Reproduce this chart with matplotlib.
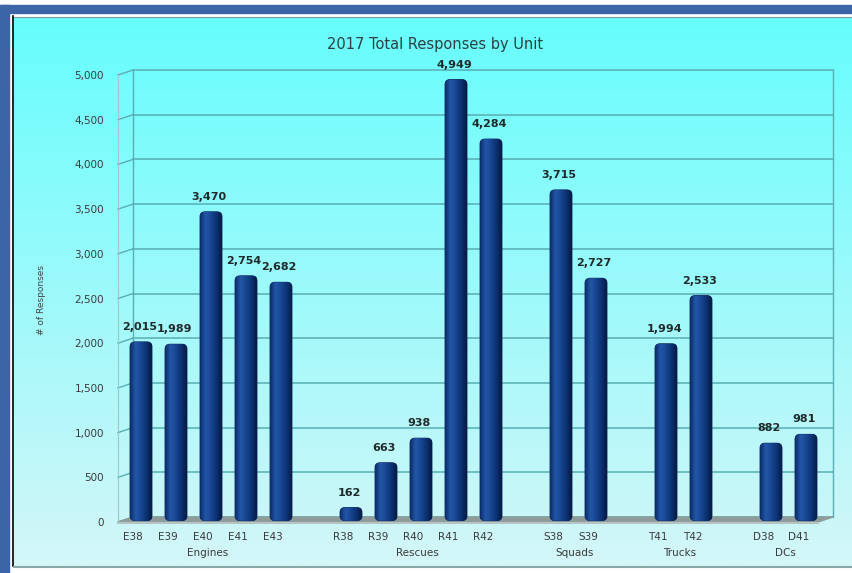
import numpy as np
import matplotlib
matplotlib.use("Agg")
import matplotlib.pyplot as plt
from matplotlib.patches import Rectangle, Polygon, FancyBboxPatch
from matplotlib.colors import LinearSegmentedColormap, to_rgb

# data
units = ["E38", "E39", "E40", "E41", "E43",
         "R38", "R39", "R40", "R41", "R42",
         "S38", "S39",
         "T41", "T42",
         "D38", "D41"]
responses = [2015, 1989, 3470, 2754, 2682,
             162, 663, 938, 4949, 4284,
             3715, 2727,
             1994, 2533,
             882, 981]
slots = [0, 1, 2, 3, 4, 6, 7, 8, 9, 10, 12, 13, 15, 16, 18, 19]
groups = ["Engines", "Rescues", "Squads", "Trucks", "DCs"]
group_slots = [[0, 4], [6, 10], [12, 13], [15, 16], [18, 19]]
yticks = list(range(0, 5001, 500))

W, H = 853, 573
fig = plt.figure(figsize=(W / 100, H / 100), dpi=100)

# ---- background / frame (pixel coords)
bg = fig.add_axes([0, 0, 1, 1])
bg.set_xlim(0, W)
bg.set_ylim(H, 0)
bg.axis("off")
top_c = np.array(to_rgb("#66fdfd"))
bot_c = np.array(to_rgb("#d4f6f8"))
t = np.linspace(0, 1, 256)[:, None, None]
grad = top_c * (1 - t) + bot_c * t
bg.imshow(np.repeat(grad, 2, axis=1), extent=[14, W, 566, 17], aspect="auto", zorder=0)
bg.add_patch(Rectangle((0, 5), 9, H, color="#3b65a7", zorder=2))
bg.add_patch(Rectangle((0, 5), W, 8, color="#3b65a7", zorder=2))
bg.plot([13.5, 13.5], [16, 566], color="black", lw=1.2, zorder=3)
bg.plot([14, W], [16.5, 16.5], color="#7a9a9a", lw=0.8, zorder=3)
bg.plot([14, W], [566.5, 566.5], color="#8aa8a8", lw=1.5, zorder=3)

# ---- chart area
px_l, px_r, px_b, px_t = 118, 833, 522, 75
ax = fig.add_axes([px_l / W, (H - px_b) / H, (px_r - px_l) / W, (px_b - px_t) / H])
ax.set_facecolor("none")
slot_px = 35.0
x0 = (px_l - 141) / slot_px
x1 = (px_r - 141) / slot_px
for s in ax.spines.values():
    s.set_visible(False)

ypp = 5000 / (px_b - px_t)        # data units per pixel, vertical
dx = 15 / slot_px                 # depth offset
dy = 5 * ypp

grid_c = "#58aeb2"
for v in yticks:
    ax.plot([x0 + dx, x1], [v + dy, v + dy], color=grid_c, lw=1.1, clip_on=False, zorder=1)
    ax.plot([x0, x0 + dx], [v, v + dy], color=grid_c, lw=1.0, clip_on=False, zorder=1)
ax.plot([x0 + dx, x0 + dx], [dy, 5000 + dy], color=grid_c, lw=1.0, clip_on=False, zorder=1)
ax.plot([x1, x1], [dy, 5000 + dy], color=grid_c, lw=1.0, clip_on=False, zorder=1)
ax.plot([x0, x0], [0, 5000], color="#9cc8cc", lw=0.8, clip_on=False, zorder=1)

# floor
ax.add_patch(Polygon([(x0, 0), (x1 - dx, 0), (x1, dy), (x0 + dx, dy)],
                     closed=True, color="#8f9c9c", clip_on=False, zorder=2))
ax.plot([x0, x1 - dx], [-8, -8], color="#b5c4c4", lw=1.5, clip_on=False, zorder=2)

# bars with cylinder shading
bar_cmap = LinearSegmentedColormap.from_list(
    "cyl", ["#0a2c6a", "#2457a8", "#174590", "#0c3272", "#061a44"])
shade = np.linspace(0, 1, 64)[None, :]
bw = 22 / slot_px
rx = 5 / slot_px
aspect = (5 * ypp) / rx
for s, v in zip(slots, responses):
    left = s - bw / 2
    patch = FancyBboxPatch((left, 15), bw, v - 15,
                           boxstyle=f"round,pad=0,rounding_size={rx}",
                           mutation_aspect=aspect, facecolor="#123f88",
                           edgecolor="#0a2558", lw=0.6, zorder=4)
    ax.add_patch(patch)
    im = ax.imshow(shade, cmap=bar_cmap, extent=[left, left + bw, 15, v],
                   aspect="auto", zorder=5)
    im.set_clip_path(patch)
    ax.text(s - 0.05, v + 15 * ypp, f"{v:,}", ha="center", va="center",
            fontsize=8, fontweight="bold", color="#1e2a2a", zorder=6)
ax.set_aspect("auto")
ax.set_xlim(x0, x1)
ax.set_ylim(0, 5000)

# axis labels
ax.set_xticks([])
ax.set_yticks(yticks)
ax.set_yticklabels([f"{v:,}" for v in yticks], fontsize=7.5, color="#3a3a3a")
ax.tick_params(axis="y", length=0, pad=10)
for s, u in zip(slots, units):
    ax.text(s - 0.22, -15 * ypp, u, ha="center", va="center", fontsize=7.5, color="#3a3a3a")
for g, (a, b) in zip(groups, group_slots):
    ax.text((a + b) / 2 - 0.1, -31 * ypp, g, ha="center", va="center", fontsize=7.5, color="#3a3a3a")

fig.text(435 / W, 1 - 45 / H, "2017 Total Responses by Unit", ha="center", va="center",
         fontsize=10.5, color="#2e4040")
fig.text(42 / W, 1 - 300 / H, "# of Responses", rotation=90, ha="center", va="center",
         fontsize=6.5, color="#444")

fig.savefig("out.png", dpi=100)
